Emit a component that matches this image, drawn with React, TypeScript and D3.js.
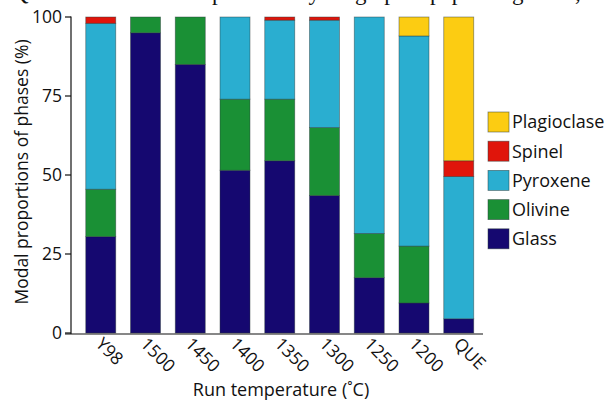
import React from "react";
import * as d3 from "d3";

const categories = ["Y98", "1500", "1450", "1400", "1350", "1300", "1250", "1200", "QUE"];
const phases = ["Glass", "Olivine", "Pyroxene", "Spinel", "Plagioclase"];
const glass = [30.5, 95, 85, 51.5, 54.5, 43.5, 17.5, 9.5, 4.5];
const olivine = [15, 5, 15, 22.5, 19.5, 21.5, 14, 18, 0];
const pyroxene = [52.5, 0, 0, 26, 25, 34, 68.5, 66.5, 45];
const spinel = [2, 0, 0, 0, 1, 1, 0, 0, 5];
const plagioclase = [0, 0, 0, 0, 0, 0, 0, 6, 45.5];
const yTicks = [0, 25, 50, 75, 100];
const colors = ["#150870", "#1a9035", "#2aaed0", "#e0150b", "#fccc12"];
const legendOrder = ["Plagioclase", "Spinel", "Pyroxene", "Olivine", "Glass"];
// caption line above the chart, cut off by the top edge (only descenders visible)
const captionWords: [number, string][] = [
  [12, "Quantitative modal"],
  [212, "phases"],
  [297, "by"],
  [355, "graph"],
  [430, "paper"],
  [490, "of"],
  [512, "grids"],
  [575, ","],
];

const W = 605;
const H = 402;
const FONT = "'Open Sans', 'Noto Sans', sans-serif";

export default function App() {
  const rows = categories.map((c, i) => ({
    cat: c,
    Glass: glass[i],
    Olivine: olivine[i],
    Pyroxene: pyroxene[i],
    Spinel: spinel[i],
    Plagioclase: plagioclase[i],
  }));
  const stack = d3.stack<any>().keys(phases)(rows);
  const x = d3.scaleBand<string>().domain(categories).range([71, 488.5]).paddingInner(0.33).paddingOuter(0.33);
  const y = d3.scaleLinear().domain([0, 100]).range([333, 17]);
  const color = d3.scaleOrdinal<string, string>().domain(phases).range(colors);

  return (
    <svg width={W} height={H} style={{ position: "absolute", left: 0, top: 0, background: "#fff" }}>
      <text y={0.3} fontFamily="'Liberation Serif', 'DejaVu Serif', serif" fontSize={23} fill="#111">
        {captionWords.map(([cx, w], i) => (
          <tspan key={i} x={cx}>
            {w}
          </tspan>
        ))}
      </text>
      {stack.map((layer) => (
        <g key={layer.key} fill={color(layer.key)}>
          {layer.map((d, i) =>
            d[1] - d[0] > 0 ? (
              <rect
                key={i}
                x={x(categories[i])}
                y={y(d[1])}
                width={x.bandwidth()}
                height={y(d[0]) - y(d[1])}
                stroke="#2a3a3a"
                strokeOpacity={0.55}
                strokeWidth={0.8}
              />
            ) : null
          )}
        </g>
      ))}
      <line x1={71} x2={71} y1={16.5} y2={334} stroke="#111" strokeWidth={1.2} />
      <line x1={65} x2={483} y1={334} y2={334} stroke="#111" strokeWidth={1.2} />
      {yTicks.map((t) => (
        <g key={t}>
          <line x1={65} x2={71} y1={y(t)} y2={y(t)} stroke="#111" strokeWidth={1.2} />
          <text x={62} y={y(t)} dy="0.35em" textAnchor="end" fontFamily={FONT} fontSize={17.5} fill="#111">
            {t}
          </text>
        </g>
      ))}
      {categories.map((c) => {
        const cx = x(c)! + x.bandwidth() / 2;
        return (
          <text
            key={c}
            transform={`translate(${cx - 6},${345}) rotate(45)`}
            fontFamily={FONT}
            fontSize={17.5}
            fill="#111"
          >
            {c}
          </text>
        );
      })}
      <text
        transform={`translate(28,172) rotate(-90)`}
        textAnchor="middle"
        fontFamily={FONT}
        fontSize={17.5}
        fill="#111"
      >
        Modal proportions of phases (%)
      </text>
      <text x={281} y={396} textAnchor="middle" fontFamily={FONT} fontSize={18} fill="#111">
        Run temperature (˚C)
      </text>
      {legendOrder.map((p, i) => (
        <g key={p} transform={`translate(488,${112 + i * 29.2})`}>
          <rect width={21} height={20} fill={color(p)} stroke="#2a3a3a" strokeOpacity={0.6} strokeWidth={0.8} />
          <text x={24} y={10} dy="0.36em" fontFamily={FONT} fontSize={18} fill="#111">
            {p}
          </text>
        </g>
      ))}
    </svg>
  );
}
